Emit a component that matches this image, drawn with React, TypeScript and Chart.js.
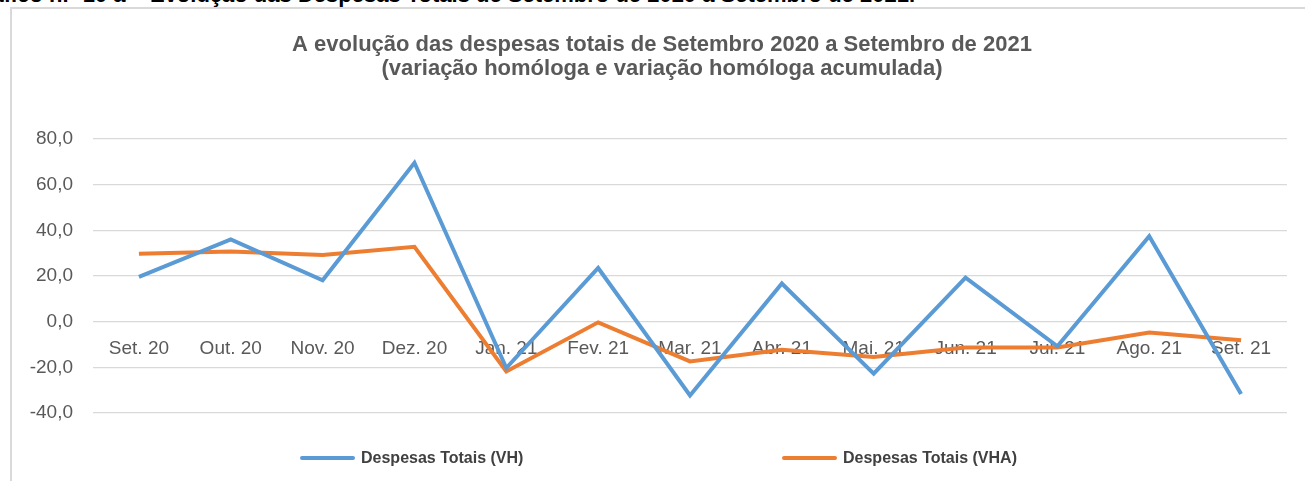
import React, { useEffect, useRef } from "react";
import { Chart, registerables } from "chart.js";

Chart.register(...registerables);

const categories = [
  "Set. 20", "Out. 20", "Nov. 20", "Dez. 20", "Jan. 21", "Fev. 21", "Mar. 21",
  "Abr. 21", "Mai. 21", "Jun. 21", "Jul. 21", "Ago. 21", "Set. 21",
];
const vhValues = [19.6, 36.0, 18.1, 69.6, -20.3, 23.5, -32.3, 16.7, -22.8, 19.3, -10.8, 37.4, -31.7];
const vhaValues = [29.7, 30.7, 29.2, 32.8, -21.8, -0.3, -17.4, -12.3, -15.5, -11.3, -11.3, -4.8, -8.1];
const seriesNames = ["Despesas Totais (VH)", "Despesas Totais (VHA)"];
const seriesColors = ["#5B9BD5", "#ED7D31"];
const titleLines = [
  "A evolução das despesas totais de Setembro 2020 a Setembro de 2021",
  "(variação homóloga e variação homóloga acumulada)",
];
const headerText =
  "Gráfico n.º 10 a – Evolução das Despesas Totais de Setembro de 2020 a Setembro de 2021.";
const yMin = -40;
const yMax = 80;
const yStep = 20;

const FONT = "'Liberation Sans', Arial, sans-serif";

// lets the y tick labels extend left of the padded scale box without being clipped
const yLabelRoom = {
  id: "yLabelRoom",
  afterLayout(chart: any) {
    if (chart.scales.y) chart.scales.y.left = 0;
  },
};

export default function App() {
  const canvasRef = useRef<HTMLCanvasElement | null>(null);

  useEffect(() => {
    const canvas = canvasRef.current;
    if (!canvas) return;
    const chart = new Chart(canvas, {
      type: "line",
      data: {
        labels: categories,
        datasets: [
          {
            label: seriesNames[0],
            data: vhValues,
            borderColor: seriesColors[0],
            backgroundColor: seriesColors[0],
            borderWidth: 4,
            pointRadius: 0,
            tension: 0,
          },
          {
            label: seriesNames[1],
            data: vhaValues,
            borderColor: seriesColors[1],
            backgroundColor: seriesColors[1],
            borderWidth: 4,
            pointRadius: 0,
            tension: 0,
          },
        ],
      },
      options: {
        animation: false,
        responsive: false,
        maintainAspectRatio: false,
        layout: { padding: { top: 23, right: 18, bottom: 68, left: 37 } },
        plugins: {
          legend: { display: false },
          tooltip: { enabled: false },
          title: {
            display: true,
            text: titleLines,
            color: "#595959",
            font: { family: FONT, size: 22, weight: "bold", lineHeight: 1.1 },
            padding: { top: 10, bottom: 57.6 },
          },
        },
        scales: {
          x: {
            type: "category",
            offset: true,
            position: { y: 0 } as any,
            grid: { display: false, drawTicks: false },
            border: { display: false },
            ticks: {
              color: "#595959",
              font: { family: FONT, size: 19 },
              padding: 16,
              maxRotation: 0,
              autoSkip: false,
            },
          },
          y: {
            min: yMin,
            max: yMax,
            grid: { color: "#d9d9d9", lineWidth: 1.2, drawTicks: false },
            border: { display: false },
            afterFit: (s: any) => {
              s.width = 56;
            },
            ticks: {
              stepSize: yStep,
              color: "#595959",
              font: { family: FONT, size: 19 },
              padding: 20,
              callback: (v: any) => Number(v).toFixed(1).replace(".", ","),
            },
          },
        },
      },
      plugins: [yLabelRoom],
    });
    return () => chart.destroy();
  }, []);

  return (
    <div
      style={{
        position: "absolute",
        left: 0,
        top: 0,
        width: 1305,
        height: 481,
        overflow: "hidden",
        background: "#ffffff",
        fontFamily: FONT,
      }}
    >
      <div
        style={{
          position: "absolute",
          right: 1305 - 915,
          top: -18,
          whiteSpace: "nowrap",
          fontWeight: "bold",
          fontSize: 22,
          lineHeight: "26px",
          color: "#000000",
        }}
      >
        {headerText}
      </div>
      <div
        style={{
          position: "absolute",
          left: 10,
          top: 7,
          width: 1400,
          height: 600,
          border: "2px solid #d9d9d9",
          boxSizing: "border-box",
        }}
      />
      <canvas
        ref={canvasRef}
        width={1305}
        height={481}
        style={{ position: "absolute", left: 0, top: 0, width: 1305, height: 481 }}
      />
      {seriesNames.map((name, i) => (
        <div
          key={name}
          style={{
            position: "absolute",
            left: i === 0 ? 300 : 782,
            top: 448,
            height: 20,
            display: "flex",
            alignItems: "center",
            whiteSpace: "nowrap",
          }}
        >
          <div
            style={{
              width: 55,
              height: 4,
              borderRadius: 2,
              background: seriesColors[i],
              marginRight: 6,
            }}
          />
          <span style={{ fontWeight: "bold", fontSize: 16, color: "#404040" }}>{name}</span>
        </div>
      ))}
    </div>
  );
}
